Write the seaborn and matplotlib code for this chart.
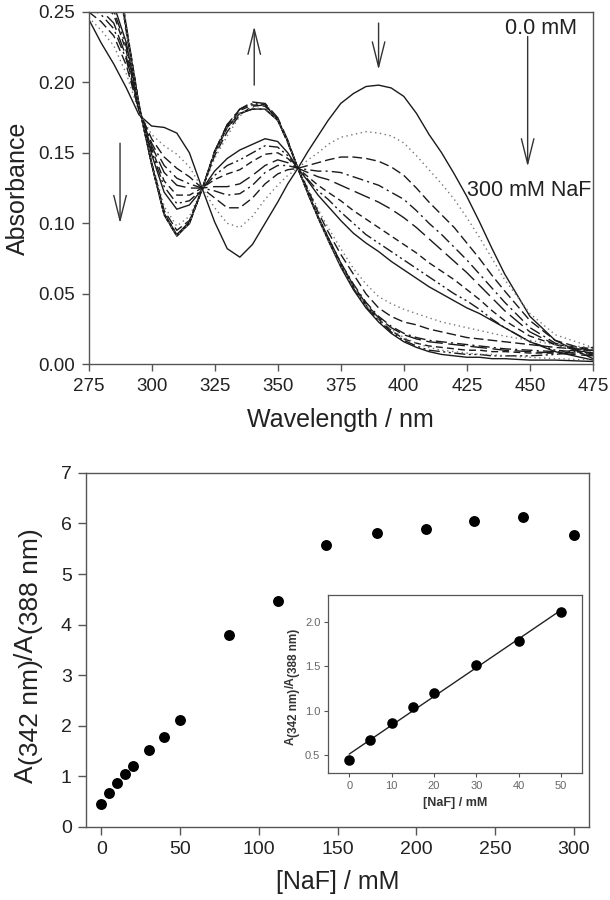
import numpy as np
import pandas as pd
import matplotlib
matplotlib.use('Agg')
import matplotlib.pyplot as plt
import seaborn as sns

sns.set_style('ticks')
plt.rcParams['font.family'] = ['Liberation Sans', 'DejaVu Sans']

# UV-vis spectra, wavelength grid (nm)
wl = [275, 280, 285, 290, 295, 300, 305, 310, 315, 320, 325, 330, 335, 340, 345,
      350, 354, 358, 362, 366, 370, 375, 380, 385, 390, 395, 400, 405, 410, 415,
      420, 425, 430, 435, 440, 450, 460, 475]

# absorbance for each [NaF] (mM)
a0 = [0.245, 0.228, 0.213, 0.196, 0.177, 0.169, 0.168, 0.164, 0.150, 0.125,
      0.101, 0.082, 0.076, 0.085, 0.100, 0.115, 0.128, 0.139, 0.151, 0.162,
      0.173, 0.185, 0.192, 0.197, 0.198, 0.196, 0.190, 0.178, 0.163, 0.150,
      0.135, 0.119, 0.101, 0.082, 0.064, 0.034, 0.017, 0.004]
a5 = [0.246, 0.237, 0.226, 0.206, 0.179, 0.163, 0.155, 0.149, 0.140, 0.125,
      0.111, 0.100, 0.097, 0.105, 0.117, 0.127, 0.134, 0.139, 0.145, 0.150,
      0.156, 0.161, 0.163, 0.165, 0.164, 0.162, 0.157, 0.148, 0.138, 0.128,
      0.117, 0.104, 0.090, 0.075, 0.060, 0.036, 0.021, 0.012]
a10 = [0.250, 0.243, 0.233, 0.212, 0.180, 0.160, 0.147, 0.139, 0.133, 0.125,
       0.118, 0.111, 0.111, 0.118, 0.128, 0.135, 0.138, 0.139, 0.141, 0.143,
       0.145, 0.147, 0.147, 0.146, 0.144, 0.140, 0.134, 0.125, 0.115, 0.106,
       0.097, 0.086, 0.075, 0.063, 0.052, 0.031, 0.017, 0.009]
a15 = [0.253, 0.248, 0.238, 0.216, 0.180, 0.157, 0.141, 0.132, 0.128, 0.125,
       0.123, 0.120, 0.121, 0.127, 0.136, 0.141, 0.141, 0.139, 0.138, 0.137,
       0.137, 0.136, 0.133, 0.130, 0.127, 0.122, 0.117, 0.109, 0.100, 0.092,
       0.083, 0.074, 0.064, 0.054, 0.044, 0.026, 0.015, 0.008]
a20 = [0.255, 0.251, 0.242, 0.218, 0.181, 0.155, 0.136, 0.127, 0.125, 0.125,
       0.126, 0.126, 0.128, 0.134, 0.141, 0.145, 0.143, 0.139, 0.136, 0.133,
       0.131, 0.127, 0.123, 0.119, 0.115, 0.110, 0.104, 0.097, 0.089, 0.081,
       0.073, 0.065, 0.056, 0.047, 0.038, 0.023, 0.014, 0.007]
a30 = [0.258, 0.256, 0.248, 0.222, 0.181, 0.153, 0.130, 0.120, 0.120, 0.125,
       0.131, 0.135, 0.138, 0.144, 0.149, 0.150, 0.146, 0.139, 0.133, 0.127,
       0.122, 0.116, 0.109, 0.103, 0.097, 0.091, 0.085, 0.079, 0.072, 0.066,
       0.060, 0.053, 0.046, 0.038, 0.031, 0.020, 0.014, 0.011]
a40 = [0.260, 0.259, 0.251, 0.225, 0.181, 0.151, 0.126, 0.114, 0.116, 0.124,
       0.134, 0.141, 0.145, 0.150, 0.155, 0.154, 0.148, 0.139, 0.131, 0.123,
       0.117, 0.108, 0.100, 0.092, 0.086, 0.080, 0.074, 0.068, 0.062, 0.056,
       0.050, 0.045, 0.039, 0.032, 0.026, 0.016, 0.010, 0.008]
a50 = [0.262, 0.261, 0.255, 0.228, 0.182, 0.149, 0.122, 0.110, 0.113, 0.124,
       0.137, 0.146, 0.152, 0.156, 0.160, 0.158, 0.150, 0.139, 0.130, 0.120,
       0.112, 0.102, 0.093, 0.086, 0.080, 0.073, 0.067, 0.061, 0.055, 0.050,
       0.045, 0.040, 0.036, 0.031, 0.026, 0.016, 0.009, 0.003]
a81 = [0.404, 0.348, 0.292, 0.234, 0.183, 0.144, 0.112, 0.098, 0.105, 0.124,
       0.146, 0.162, 0.176, 0.184, 0.185, 0.174, 0.157, 0.139, 0.125, 0.110,
       0.097, 0.082, 0.068, 0.057, 0.048, 0.043, 0.039, 0.036, 0.033, 0.030,
       0.028, 0.026, 0.024, 0.022, 0.020, 0.017, 0.014, 0.012]
a112 = [0.410, 0.355, 0.296, 0.236, 0.183, 0.143, 0.109, 0.095, 0.102, 0.124,
        0.148, 0.165, 0.177, 0.183, 0.184, 0.173, 0.157, 0.139, 0.124, 0.108,
        0.094, 0.078, 0.064, 0.050, 0.040, 0.034, 0.030, 0.028, 0.025, 0.023,
        0.021, 0.019, 0.018, 0.017, 0.016, 0.014, 0.012, 0.010]
a143 = [0.415, 0.358, 0.298, 0.237, 0.183, 0.142, 0.107, 0.092, 0.100, 0.124,
        0.150, 0.168, 0.178, 0.181, 0.181, 0.173, 0.158, 0.139, 0.122, 0.105,
        0.090, 0.072, 0.057, 0.044, 0.034, 0.027, 0.022, 0.019, 0.017, 0.016,
        0.015, 0.014, 0.013, 0.012, 0.011, 0.010, 0.009, 0.007]
a175 = [0.420, 0.360, 0.300, 0.238, 0.184, 0.143, 0.107, 0.092, 0.101, 0.124,
        0.151, 0.170, 0.181, 0.186, 0.185, 0.175, 0.159, 0.139, 0.122, 0.105,
        0.090, 0.072, 0.056, 0.043, 0.033, 0.026, 0.021, 0.018, 0.016, 0.015,
        0.014, 0.013, 0.012, 0.011, 0.010, 0.009, 0.008, 0.006]
a206 = [0.420, 0.360, 0.300, 0.239, 0.184, 0.142, 0.106, 0.091, 0.100, 0.124,
        0.151, 0.169, 0.180, 0.184, 0.183, 0.174, 0.158, 0.139, 0.121, 0.104,
        0.089, 0.071, 0.055, 0.042, 0.032, 0.024, 0.018, 0.015, 0.013, 0.012,
        0.011, 0.010, 0.010, 0.009, 0.009, 0.008, 0.008, 0.012]
a237 = [0.420, 0.360, 0.300, 0.240, 0.185, 0.142, 0.106, 0.091, 0.100, 0.124,
        0.151, 0.170, 0.181, 0.185, 0.184, 0.174, 0.158, 0.139, 0.121, 0.104,
        0.088, 0.070, 0.054, 0.041, 0.031, 0.023, 0.017, 0.013, 0.010, 0.009,
        0.008, 0.007, 0.007, 0.006, 0.006, 0.006, 0.007, 0.010]
a268 = [0.420, 0.360, 0.300, 0.238, 0.183, 0.142, 0.106, 0.091, 0.100, 0.124,
        0.150, 0.168, 0.178, 0.181, 0.181, 0.173, 0.158, 0.139, 0.121, 0.104,
        0.088, 0.069, 0.053, 0.040, 0.030, 0.022, 0.016, 0.012, 0.009, 0.007,
        0.006, 0.005, 0.005, 0.004, 0.004, 0.003, 0.003, 0.002]
a300 = [0.420, 0.360, 0.300, 0.238, 0.183, 0.142, 0.106, 0.091, 0.100, 0.124,
        0.150, 0.168, 0.178, 0.182, 0.181, 0.173, 0.158, 0.139, 0.121, 0.104,
        0.088, 0.070, 0.055, 0.042, 0.032, 0.025, 0.019, 0.015, 0.012, 0.010,
        0.009, 0.008, 0.007, 0.007, 0.006, 0.005, 0.004, 0.003]

conc = ['0', '5', '10', '15', '20', '30', '40', '50',
        '81', '112', '143', '175', '206', '237', '268', '300']
curves = [a0, a5, a10, a15, a20, a30, a40, a50,
          a81, a112, a143, a175, a206, a237, a268, a300]

# titration: absorbance ratio vs [NaF]
naf = [0, 5, 10, 15, 20, 30, 40, 50, 81, 112, 143, 175, 206, 237, 268, 300]
ratio = [0.45, 0.67, 0.86, 1.04, 1.20, 1.51, 1.78, 2.11,
         3.80, 4.46, 5.57, 5.81, 5.89, 6.05, 6.12, 5.78]
# inset (linear range)
naf_lin = [0, 5, 10, 15, 20, 30, 40, 50]
ratio_lin = [0.45, 0.67, 0.86, 1.04, 1.20, 1.51, 1.78, 2.11]

# line style cycle (solid, dotted, dashed, dash-dot, long dash, short dash, dash-dot-dot)
cycle = ['', (1, 2.5), (7, 3), (8, 3, 1.5, 3), (12, 4), (5, 3), (8, 2.5, 1.5, 2.5, 1.5, 2.5)]
dash_map = {c: cycle[i % len(cycle)] for i, c in enumerate(conc)}
col_map = {c: ('#777777' if dash_map[c] == (1, 2.5) else '#1a1a1a') for c in conc}

spec = pd.DataFrame({'wl': wl * len(conc),
                     'A': np.concatenate(curves),
                     'mM': np.repeat(conc, len(wl))})

fig = plt.figure(figsize=(6.1, 9), dpi=100)
ax1 = fig.add_axes([0.1451, 0.5952, 0.827, 0.3917])
ax2 = fig.add_axes([0.1403, 0.0815, 0.826, 0.393])
axin = fig.add_axes([0.5377, 0.1408, 0.4169, 0.198])

spine_col = '#555555'
for ax in (ax1, ax2, axin):
    for s in ax.spines.values():
        s.set_color(spine_col)
        s.set_linewidth(1.0)

# ---- top: spectra
sns.lineplot(data=spec, x='wl', y='A', hue='mM', style='mM', palette=col_map,
             dashes=dash_map, estimator=None, sort=True, lw=1.0, legend=False, ax=ax1)
ax1.set_xlim(275, 475)
ax1.set_ylim(0, 0.25)
ax1.set_xticks(range(275, 476, 25))
ax1.set_yticks([0, 0.05, 0.10, 0.15, 0.20, 0.25])
ax1.set_yticklabels(['0.00', '0.05', '0.10', '0.15', '0.20', '0.25'])
ax1.tick_params(direction='out', length=5, width=1, color=spine_col,
                labelsize=13.5, pad=5, labelcolor='#222222')
ax1.set_xlabel('Wavelength / nm', fontsize=18, color='#222222')
ax1.set_ylabel('Absorbance', fontsize=18, color='#222222')
ax1.xaxis.set_label_coords(0.5, -0.124)
ax1.yaxis.set_label_coords(-0.116, 0.5)

arrow = dict(arrowstyle='->,head_length=1.8,head_width=0.45', lw=1.0,
             color='#333333', mutation_scale=10, shrinkA=0, shrinkB=0)
ax1.annotate('', xy=(340.7, 0.2396), xytext=(340.7, 0.198), arrowprops=arrow)
ax1.annotate('', xy=(390.0, 0.2089), xytext=(390.0, 0.242), arrowprops=arrow)
ax1.annotate('', xy=(287.5, 0.100), xytext=(287.5, 0.1568), arrowprops=arrow)
ax1.annotate('', xy=(449.1, 0.1402), xytext=(449.1, 0.2325), arrowprops=arrow)
ax1.text(440.3, 0.238, '0.0 mM', fontsize=15.5, va='center', ha='left', color='#222222')
ax1.text(425.0, 0.123, '300 mM NaF', fontsize=15.5, va='center', ha='left', color='#222222')

# ---- bottom: ratio vs [NaF]
sns.scatterplot(x=naf, y=ratio, color='black', s=62, linewidth=0, ax=ax2, zorder=3)
ax2.set_xlim(-10, 310)
ax2.set_ylim(0, 7)
ax2.set_xticks(range(0, 301, 50))
ax2.set_yticks(range(0, 8))
ax2.tick_params(direction='out', length=6, width=1, color=spine_col,
                labelsize=14, pad=4, labelcolor='#222222')
ax2.set_xlabel('[NaF] / mM', fontsize=18, color='#222222')
ax2.xaxis.set_label_coords(0.5, -0.122)
ax2.set_ylabel('')

# ---- inset: linear fit
sns.regplot(x=naf_lin, y=ratio_lin, ci=None, ax=axin, color='black',
            scatter_kws=dict(s=58, linewidths=0, alpha=1, zorder=3),
            line_kws=dict(lw=1.0, color='#222222'))
axin.set_xlim(-5, 55)
axin.set_ylim(0.3, 2.3)
axin.set_xticks(range(0, 51, 10))
axin.set_yticks([0.5, 1.0, 1.5, 2.0])
axin.set_yticklabels(['0.5', '1.0', '1.5', '2.0'])
axin.tick_params(direction='out', length=3, width=0.8, color=spine_col,
                 labelsize=8, pad=2.5, labelcolor='#666666')
axin.set_xlabel('[NaF] / mM', fontsize=9, fontweight='bold', color='#333333')
axin.xaxis.set_label_coords(0.5, -0.133)
axin.set_ylabel('')
for s in axin.spines.values():
    s.set_linewidth(0.9)


def vlabel(x, y, pieces, **kw):
    # rotated label built from pieces, subscripts shifted off the baseline
    rend = fig.canvas.get_renderer()
    for txt, dx in pieces:
        t = fig.text(x + dx, y, txt, rotation=90, rotation_mode='anchor',
                     ha='left', va='baseline', **kw)
        y += t.get_window_extent(rend).height / fig.bbox.height


fig.canvas.draw()
vlabel(0.054, 0.13, [('A', 0), ('(342 nm)', 0.009), ('/A', 0), ('(388 nm)', 0.009)],
       fontsize=19, color='#222222')
vlabel(0.4817, 0.1722, [('A', 0), ('(342 nm)', 0.005), ('/A', 0), ('(388 nm)', 0.005)],
       fontsize=8.5, fontweight='bold', color='#333333')

fig.savefig('out.png', dpi=100)
